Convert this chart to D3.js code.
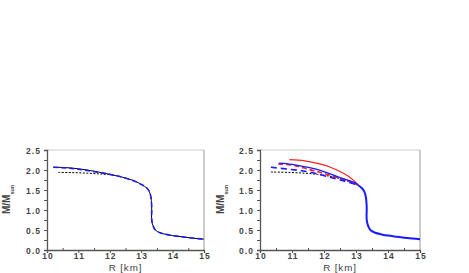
<!DOCTYPE html>
<html><head><meta charset="utf-8">
<script src="https://cdn.jsdelivr.net/npm/d3@7"></script>
<style>body{margin:0;background:#fff}svg{display:block}text{font-family:"Liberation Sans",Arial,sans-serif}</style>
</head><body><svg id="c" width="469" height="273"></svg>
<script>
// shared low-mass tail (common to all EoS)
const tailR = [13.07,13.18,13.26,13.31,13.33,13.335,13.33,13.34,13.38,13.45,13.6,13.8,14.0,14.3,14.6,15.0];
const tailM = [1.62,1.55,1.46,1.32,1.15,1.0,0.85,0.72,0.6,0.5,0.43,0.39,0.36,0.33,0.3,0.27];

// left panel
const L_solidR = [10.2,10.6,11.0,11.5,12.0,12.4,12.8,13.0];
const L_solidM = [2.07,2.06,2.03,1.97,1.89,1.82,1.72,1.64];
const L_dashR = [10.2,10.6,11.0,11.5,12.0,12.4,12.8,13.0];
const L_dashM = [2.07,2.05,2.02,1.96,1.89,1.82,1.72,1.64];
const L_dotR = [10.36,10.8,11.3,11.7,12.0];
const L_dotM = [1.94,1.935,1.92,1.9,1.89];

// right panel
const R_redSolidR = [10.92,11.4,11.93,12.2,12.45,12.75,12.97,13.07];
const R_redSolidM = [2.26,2.23,2.14,2.07,1.98,1.85,1.71,1.63];
const R_blueSolidR = [10.59,11.0,11.41,11.93,12.44,12.97,13.07];
const R_blueSolidM = [2.17,2.14,2.08,1.98,1.83,1.68,1.63];
const R_redDashR = [10.57,11.1,11.5,11.93,12.34,12.75,13.07];
const R_redDashM = [2.15,2.11,2.02,1.93,1.83,1.73,1.62];
const R_blueDashR = [10.34,10.89,11.3,11.72,12.13,12.6,13.07];
const R_blueDashM = [2.07,2.02,1.98,1.92,1.83,1.73,1.62];
const R_dotR = [10.34,10.9,11.41,11.8,12.13,12.6,13.07];
const R_dotM = [1.95,1.94,1.92,1.89,1.85,1.76,1.62];

const xTicks = [10,11,12,13,14,15];
const yTicks = [0.0,0.5,1.0,1.5,2.0,2.5];

const svg = d3.select("#c");

function panel(x0, x1, yLabelX, series){
  const x = d3.scaleLinear().domain([10,15]).range([x0,x1]);
  const y = d3.scaleLinear().domain([0,2.5]).range([250,150]);
  const g = svg.append("g");
  g.append("line").attr("x1",x0).attr("x2",x1).attr("y1",150).attr("y2",150).attr("stroke","#ddd").attr("stroke-width",1.5);
  g.append("line").attr("x1",x1).attr("x2",x1).attr("y1",150).attr("y2",250).attr("stroke","#aaa").attr("stroke-width",1.2);
  const line = d3.line().x(d=>x(d[0])).y(d=>y(d[1])).curve(d3.curveCatmullRom.alpha(0.5));
  series.forEach(s=>{
    const pts = s.R.map((r,i)=>[r,s.M[i]]);
    g.append("path").attr("d",line(pts)).attr("fill","none")
      .attr("stroke",s.color).attr("stroke-width",s.w)
      .attr("stroke-dasharray",s.dash||null);
  });
  const ya = d3.axisLeft(y).tickValues(d3.range(0,2.51,0.25)).tickSize(3)
     .tickFormat(d=> (Math.round(d*100)%50===0) ? d3.format(".1f")(d) : "");
  const yg = g.append("g").attr("transform",`translate(${x0},0)`).call(ya);
  const xa = d3.axisBottom(x).tickValues(xTicks).tickSize(3).tickFormat(d3.format("d"));
  const xg = g.append("g").attr("transform",`translate(0,250)`).call(xa);
  g.append("g").attr("transform",`translate(0,250)`).call(d3.axisTop(x).tickValues([10.5,11.5,12.5,13.5,14.5]).tickSize(2).tickFormat(""))
    .call(a=>a.select(".domain").remove());
  [yg,xg].forEach(a=>{
    a.select(".domain").attr("stroke","#555").attr("stroke-width",1.3);
    a.selectAll("text").attr("font-size",8.5).attr("font-weight","bold").attr("fill","#444").attr("letter-spacing",1.1);
  });
  g.selectAll(".tick line").attr("stroke","#555");
  yg.selectAll("text").attr("x",-6).attr("dy","0.36em");
  xg.selectAll("text").attr("y",3).attr("dx","0.5px");
  g.append("text").attr("x",(x0+x1)/2).attr("y",271).attr("text-anchor","middle")
    .attr("font-size",9.8).attr("fill","#444").attr("letter-spacing",0.9).text("R [km]");
  const t = g.append("text").attr("transform",`translate(${yLabelX},214) rotate(-90)`)
    .attr("font-size",10).attr("fill","#444").attr("font-weight","bold");
  t.append("tspan").text("M/M");
  t.append("tspan").attr("font-size",5.5).attr("dy",3.5).text("sun");
}

const tail = (R,M)=>({R:R.concat(tailR.slice(1)), M:M.concat(tailM.slice(1))});

panel(47,204,10,[
  {...tail(L_solidR,L_solidM), color:"#000", w:1},
  {R:L_dotR,M:L_dotM,color:"#000",w:1,dash:"2,1.5"},
  {...tail(L_dashR,L_dashM), color:"#1a1aff", w:1.6, dash:"5,3"}
]);

panel(260,420,224,[
  {R:R_dotR,M:R_dotM,color:"#000",w:1,dash:"2,1.5"},
  {R:R_redDashR,M:R_redDashM,color:"#ff2020",w:1.6,dash:"5,3"},
  {R:R_blueDashR,M:R_blueDashM,color:"#1a1aff",w:1.6,dash:"6,4"},
  {R:R_redSolidR,M:R_redSolidM,color:"#ff2020",w:1.2},
  {R:R_blueSolidR,M:R_blueSolidM,color:"#1a1aff",w:1.3},
  {R:tailR,M:tailM,color:"#1a1aff",w:2}
]);
</script></body></html>
